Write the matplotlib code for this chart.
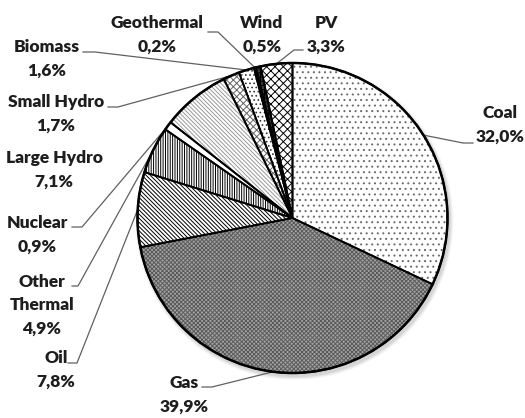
import matplotlib.pyplot as plt
from matplotlib.patches import Circle
import numpy as np

plt.rcParams['font.family'] = ['Lato', 'DejaVu Sans']
plt.rcParams['hatch.linewidth'] = 0.7

# data, clockwise from 12 o'clock
sources = ["Coal", "Gas", "Oil", "Other\nThermal", "Nuclear", "Large Hydro",
           "Small Hydro", "Biomass", "Geothermal", "Wind", "PV"]
shares = [32.0, 39.9, 7.8, 4.9, 0.9, 7.1, 1.7, 1.6, 0.2, 0.5, 3.3]

# fill style per slice: face, hatch, hatch colour
faces = ['white', '#a4a4a4', 'white', 'white', 'white', 'white',
         'white', 'white', 'white', '#3a3a3a', 'white']
hatches = ['...', 'xxxxxxxx', '\\' * 8, '|' * 7, '', '\\' * 8,
           'xxxxx', '....', '', '++++', 'xxxx']
hcolors = ['#6a6a6a', '#5a5a5a', 'black', 'black', 'black', '#9a9a9a',
           '#666666', '#333333', 'black', 'black', 'black']

# label placement (image pixels): text centre x, first line y, leader elbow + end
label_pos = {
    "Coal": (500, 113, [(463, 143), (473, 143)]),
    "Gas": (184, 383, [(212, 387), (202, 387)]),
    "Oil": (56, 358, [(77, 363), (68, 363)]),
    "Other\nThermal": (42, 282, [(78, 286), (72, 286)]),
    "Nuclear": (37, 223, [(82, 227), (72, 227)]),
    "Large Hydro": (54, 158, None),
    "Small Hydro": (56, 102, [(118, 107), (108, 107)]),
    "Biomass": (47, 47, [(95, 52), (83, 52)]),
    "Geothermal": (157, 23, [(218, 32), (208, 32)]),
    "Wind": (262, 23, None),
    "PV": (326, 23, [(294, 50), (303, 50)]),
}

W, H = 525, 418
cx, cy, R = 292.5, 218, 155
pitch = 23.5

fig = plt.figure(figsize=(W / 100, H / 100), dpi=100)
ax = fig.add_axes([0, 0, 1, 1])

# soft shadow
for k, a in enumerate([0.05, 0.05, 0.04, 0.03]):
    ax.add_patch(Circle((cx + 2, cy + 3), R + 1 + k, color='black', alpha=a, lw=0, zorder=0))

# filled + hatched slices (y axis points down, so counterclock draws clockwise on screen)
wedges, _ = ax.pie(shares, startangle=-90, counterclock=True, center=(cx, cy), radius=R,
                   wedgeprops=dict(linewidth=0))
for w, fc, ht, hc in zip(wedges, faces, hatches, hcolors):
    w.set_facecolor(fc)
    w.set_hatch(ht)
    w.set_edgecolor(hc)
    w.set_zorder(2)

# slice outlines
outl, _ = ax.pie(shares, startangle=-90, counterclock=True, center=(cx, cy), radius=R,
                 wedgeprops=dict(fill=False, edgecolor='black', linewidth=1.3))
for w in outl:
    w.set_zorder(3)
ax.add_patch(Circle((cx, cy), R, fill=False, ec='black', lw=1.8, zorder=4))

for w, name, v in zip(wedges, sources, shares):
    tx, ty, leader = label_pos[name]
    lines = name.split("\n") + [f"{v:.1f}".replace('.', ',') + "%"]
    for i, s in enumerate(lines):
        ax.text(tx, ty + i * pitch, s, ha='center', va='center', fontsize=12.5,
                fontweight='heavy', color='#1e1e1e', zorder=5)
    if leader:
        t = np.deg2rad((w.theta1 + w.theta2) / 2)
        px, py = cx + R * np.cos(t), cy + R * np.sin(t)
        xs = [px] + [p[0] for p in leader]
        ys = [py] + [p[1] for p in leader]
        ax.plot(xs, ys, color='#606060', lw=0.9, zorder=1)

ax.set_xlim(0, W)
ax.set_ylim(H, 0)
ax.set_aspect('auto')
ax.axis('off')

fig.savefig('out.png', dpi=100)
